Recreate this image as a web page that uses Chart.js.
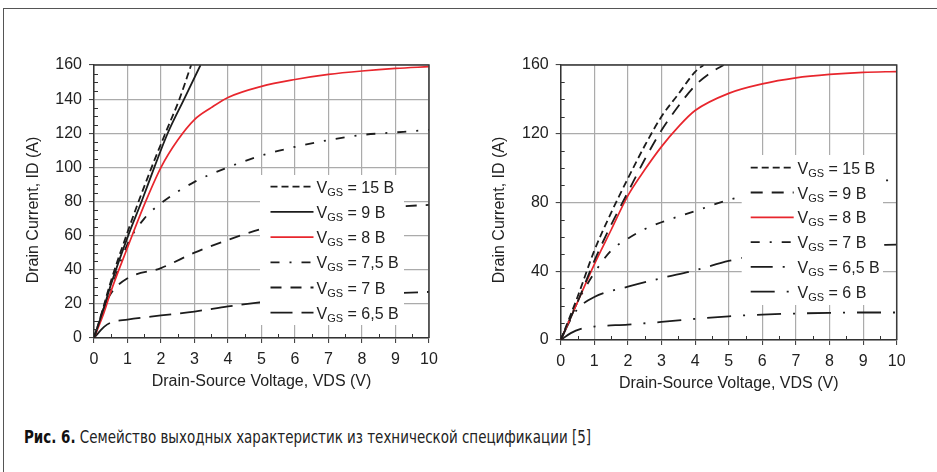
<!DOCTYPE html>
<html>
<head>
<meta charset="utf-8">
<script src="https://cdn.jsdelivr.net/npm/chart.js@4/dist/chart.umd.min.js"></script>
<style>
html,body{margin:0;padding:0;background:#fff;}
body{width:937px;height:472px;position:relative;overflow:hidden;font-family:"Liberation Sans",Arial,sans-serif;}
#frame{position:absolute;left:3px;top:8px;width:940px;height:470px;border-left:1px solid #555;border-top:1px solid #555;}
.wrap{position:absolute;top:0;height:400px;}
#w1{left:0;width:470px;}
#w2{left:470px;width:467px;}
#cap{position:absolute;left:24px;top:426px;white-space:nowrap;font-family:"Liberation Sans Narrow","DejaVu Sans Condensed","Roboto",sans-serif;font-size:18px;line-height:22px;color:#222;transform-origin:0 50%;}
#cap b{font-weight:bold;color:#111;}
</style>
</head>
<body>
<div id="frame"></div>
<div class="wrap" id="w1"><canvas id="c1" width="470" height="400"></canvas></div>
<div class="wrap" id="w2"><canvas id="c2" width="467" height="400"></canvas></div>
<div id="cap"><b>Рис. 6.</b> Семейство выходных характеристик из технической спецификации [5]</div>
<script>
// ---------- DATA ----------
const xTitle = 'Drain-Source Voltage, VDS (V)';
const yTitle = 'Drain Current, ID (A)';
const xTicks = [0,1,2,3,4,5,6,7,8,9,10];
const yTicksLeft = [0,20,40,60,80,100,120,140,160];
const yTicksRight = [0,40,80,120,160];

const gateLeft  = ['15','9','8','7,5','7','6,5'];
const gateRight = ['15','9','8','7','6,5','6'];

// Left chart (VDS in V, ID in A)
const L15_V = [0,0.25,0.5,1,1.35,1.72,2.13,2.55,2.9];
const L15_I = [0,16,33,62,81,100,120,140,160];
const L9_V  = [0,0.25,0.5,1,1.44,1.8,2.2,2.69,3.18];
const L9_I  = [0,15,31,59,81,100,120,140,160];
const L8_V  = [0,0.3,0.5,1,1.5,2,2.5,3,3.5,4,5,6,7,8,9,10];
const L8_I  = [0,15,27,53,78,100,116,128,135,141,147.5,151.5,154.5,156.5,158,159];
const L75_V = [0,0.5,1,1.5,2,3,4,5,6,7,8,9,10];
const L75_I = [0,28,55,70,79,91.5,100,107,112,116,119,120.5,122];
const L7_V  = [0,0.3,0.5,1,2,3,4,5,6,7,8,9,10];
const L7_I  = [0,18,26,35,41,50,57.5,64,69,73,75.5,77,78];
const L65_V = [0,0.3,0.5,1,2,3,4,5,6,7,8,9,10];
const L65_I = [0,6.5,9,10.8,13.2,15.5,18.5,21,23,24.5,25.5,26.3,27];

// Right chart
const R15_V = [0,0.5,1,1.5,2,2.5,3,3.5,4,4.25];
const R15_I = [0,25,52,74,94,113,130,143,156,160];
const R9_V  = [0,0.5,1,1.5,2,2.5,3,3.5,4,4.5,4.85];
const R9_I  = [0,22,46,67,86,105,122,136,148,156,160];
const R8_V  = [0,0.5,1,1.5,2,2.5,3,3.5,4,5,6,7,8,9,10];
const R8_I  = [0,22,44,64,84,99,112.5,124,133.5,143.5,149,152.5,154.5,155.7,156.2];
const R7_V  = [0,0.5,1,1.5,2,2.5,3,4,5,6,7,8,9,10];
const R7_I  = [0,22,39,52,59,64.5,68.5,75,81.5,86,89,91,92.5,93];
const R65_V = [0,0.3,0.5,1,2,3,4,5,6,7,8,9,10];
const R65_I = [0,12,18,25,31,36,40.5,46,50,52.5,54,55,55.5];
const R6_V  = [0,0.3,0.6,1,2,3,4,5,6,7,8,9,10];
const R6_I  = [0,4,6.5,7.8,9,10.5,12.3,13.8,14.8,15.4,15.8,16,16];

// ---------- STYLE ----------
const BLACK = '#1c1c1c', RED = '#e8262d';
const FONT = '"Liberation Sans", Arial, sans-serif';

function pts(xs, ys){ return xs.map((v,i)=>({x:v, y:ys[i]})); }
function ds(label, xs, ys, color, dash, width){
  return {label, data: pts(xs, ys), borderColor: color, borderDash: dash, borderWidth: width,
          pointRadius: 0, fill: false, cubicInterpolationMode: 'monotone', borderCapStyle:'butt'};
}

const legendPlugin = {
  id: 'vLegend',
  afterDraw(chart, args, o){
    const ctx = chart.ctx;
    ctx.save();
    ctx.fillStyle = '#fff';
    ctx.fillRect(o.boxX, o.boxY, o.boxW, o.boxH);
    chart.data.datasets.forEach((d, i) => {
      const y = o.y0 + i*o.dy;
      ctx.strokeStyle = d.borderColor; ctx.lineWidth = d.borderWidth;
      ctx.setLineDash(d.borderDash || []);
      ctx.beginPath(); ctx.moveTo(o.lineX, y); ctx.lineTo(o.lineX + o.lineLen, y); ctx.stroke();
      ctx.setLineDash([]);
      // label: "VGS = ..." with subscript
      const rest = d.label.replace(/^VGS/, '');
      ctx.fillStyle = '#222'; ctx.textBaseline = 'alphabetic';
      let x = o.textX;
      const base = y + 6;
      ctx.font = '16px ' + FONT; ctx.fillText('V', x, base); x += ctx.measureText('V').width;
      ctx.font = '11px ' + FONT; ctx.fillText('GS', x, base + 3); x += ctx.measureText('GS').width;
      ctx.font = '16px ' + FONT; ctx.fillText(rest, x, base);
    });
    ctx.restore();
  }
};

const framePlugin = {
  id: 'plotFrame',
  afterDraw(chart, args, o){
    const {ctx, chartArea:a, scales:{x, y}} = chart;
    ctx.save();
    ctx.strokeStyle = '#333'; ctx.lineWidth = 1;
    ctx.beginPath();
    for (let v = x.min + o.xStep; v < x.max; v += o.xStep){
      if (Math.abs(v - Math.round(v)) < 1e-6) continue;
      const px = Math.round(x.getPixelForValue(v)) + 0.5;
      ctx.moveTo(px, a.bottom); ctx.lineTo(px, a.bottom - o.len);
    }
    for (let v = y.min + o.yStep; v < y.max; v += o.yStep){
      if (v % o.yMajor === 0) continue;
      const py = Math.round(y.getPixelForValue(v)) + 0.5;
      ctx.moveTo(a.left, py); ctx.lineTo(a.left + o.len, py);
    }
    ctx.stroke();
    ctx.strokeStyle = '#3a3a3a'; ctx.lineWidth = 1.5;
    ctx.beginPath();
    ctx.moveTo(a.left, a.top); ctx.lineTo(a.right, a.top); ctx.lineTo(a.right, a.bottom);
    ctx.stroke();
    // y axis title
    ctx.fillStyle = '#222'; ctx.font = '16px ' + FONT;
    ctx.textAlign = 'center'; ctx.textBaseline = 'middle';
    ctx.translate(o.yTitleX, o.yTitleY); ctx.rotate(-Math.PI/2);
    ctx.fillText(o.yTitle, 0, 0);
    ctx.restore();
  }
};

function makeChart(id, datasets, c){
  return new Chart(document.getElementById(id), {
    type: 'line',
    data: { datasets },
    options: {
      responsive: false, animation: false, events: [],
      layout: { padding: { left: 0, top: c.top, right: c.right, bottom: c.bottom } },
      plugins: {
        legend: { display: false }, tooltip: { enabled: false },
        vLegend: c.legend,
        plotFrame: { xStep: 0.5, yStep: c.minor, yMajor: c.step, len: 4,
                     yTitle: yTitle, yTitleX: c.yTitleX, yTitleY: c.yTitleY }
      },
      scales: {
        x: {
          type: 'linear', min: 0, max: 10,
          afterBuildTicks: s => { s.ticks = xTicks.map(v => ({value: v})); },
          ticks: { color: '#222', font: { size: 16, family: FONT }, padding: 7, maxRotation: 0, autoSkip: false },
          grid: { color: '#ababab', lineWidth: 1.2, tickLength: 5, tickColor: '#333', tickWidth: 1 },
          border: { color: '#333', width: 1.5 },
          title: { display: true, text: xTitle, color: '#222', font: { size: 16, family: FONT }, padding: { top: 0, bottom: 4 } },
          afterFit: s => { s.height = c.xH; }
        },
        y: {
          type: 'linear', min: 0, max: 160,
          afterBuildTicks: s => { s.ticks = c.yTicks.map(v => ({value: v})); },
          ticks: { color: '#222', font: { size: 16, family: FONT }, padding: 7, autoSkip: false },
          grid: { color: '#ababab', lineWidth: 1.2, tickLength: 5, tickColor: '#333', tickWidth: 1 },
          border: { color: '#333', width: 1.5 },
          afterFit: s => { s.width = c.yW; }
        }
      }
    },
    plugins: [legendPlugin, framePlugin]
  });
}

const leftSets = [
  ds('VGS = ' + gateLeft[0] + ' В', L15_V, L15_I, BLACK, [7,4], 1.8),
  ds('VGS = ' + gateLeft[1] + ' В', L9_V,  L9_I,  BLACK, [], 1.8),
  ds('VGS = ' + gateLeft[2] + ' В', L8_V,  L8_I,  RED,   [], 1.7),
  ds('VGS = ' + gateLeft[3] + ' В', L75_V, L75_I, BLACK, [9,10,2,10], 1.8),
  ds('VGS = ' + gateLeft[4] + ' В', L7_V,  L7_I,  BLACK, [11,9], 1.8),
  ds('VGS = ' + gateLeft[5] + ' В', L65_V, L65_I, BLACK, [22,9], 1.8)
];
const rightSets = [
  ds('VGS = ' + gateRight[0] + ' В', R15_V, R15_I, BLACK, [7,4], 1.8),
  ds('VGS = ' + gateRight[1] + ' В', R9_V,  R9_I,  BLACK, [12,9], 1.8),
  ds('VGS = ' + gateRight[2] + ' В', R8_V,  R8_I,  RED,   [], 1.7),
  ds('VGS = ' + gateRight[3] + ' В', R7_V,  R7_I,  BLACK, [9,10,2,10], 1.8),
  ds('VGS = ' + gateRight[4] + ' В', R65_V, R65_I, BLACK, [22,10,2,10], 1.8),
  ds('VGS = ' + gateRight[5] + ' В', R6_V,  R6_I,  BLACK, [24,12,2,12], 1.8)
];

makeChart('c1', leftSets, {
  top: 65, right: 41, bottom: 5, xH: 57, yW: 94, step: 20, minor: 5, yTicks: yTicksLeft,
  yTitleX: 34, yTitleY: 210,
  legend: { boxX: 260, boxY: 175, boxW: 144, boxH: 150, lineX: 270.5, lineLen: 43, textX: 316.5, y0: 186.7, dy: 25.2 }
});
makeChart('c2', rightSets, {
  top: 65, right: 40.3, bottom: 3, xH: 57, yW: 90.7, step: 40, minor: 10, yTicks: yTicksRight,
  yTitleX: 29.7, yTitleY: 210,
  legend: { boxX: 271.7, boxY: 155, boxW: 141.3, boxH: 150, lineX: 280.7, lineLen: 43, textX: 327.5, y0: 167.7, dy: 24.8 }
});

// caption width fit
const cap = document.getElementById('cap');
const w = cap.getBoundingClientRect().width;
cap.style.transform = 'scaleX(' + (567 / w) + ')';
</script>
</body>
</html>
